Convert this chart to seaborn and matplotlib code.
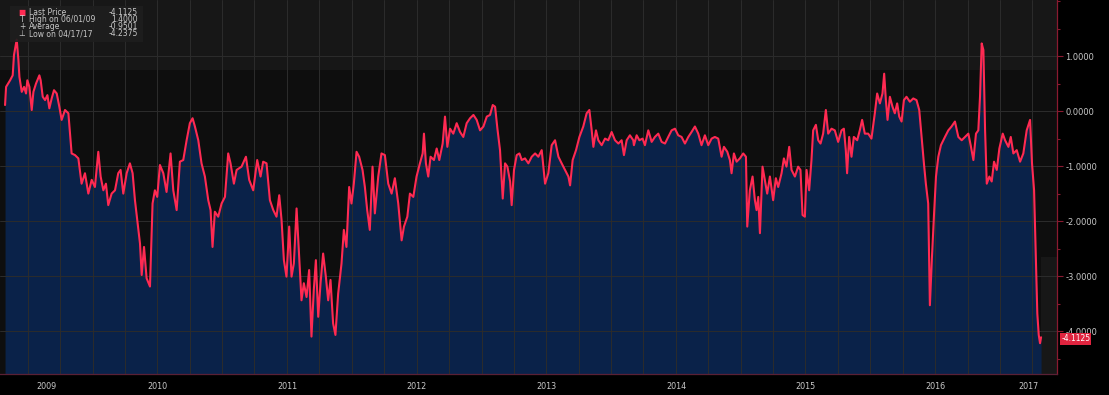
import numpy as np
import pandas as pd
import matplotlib
matplotlib.use("Agg")
import matplotlib.pyplot as plt
import matplotlib.dates as mdates
import matplotlib.ticker as mticker
from matplotlib.patches import Rectangle
import seaborn as sns

# ---------------- data ----------------
year_frac = [
    2009.321, 2009.329, 2009.360, 2009.380, 2009.390, 2009.411, 2009.424, 2009.432, 2009.450, 2009.468,
    2009.483, 2009.493, 2009.509, 2009.527, 2009.540, 2009.560, 2009.586, 2009.596, 2009.612, 2009.630,
    2009.648, 2009.663, 2009.681, 2009.699, 2009.720, 2009.740, 2009.758, 2009.784, 2009.810, 2009.835,
    2009.861, 2009.887, 2009.912, 2009.938, 2009.964, 2009.990, 2010.015, 2010.041, 2010.059, 2010.080,
    2010.100, 2010.118, 2010.144, 2010.170, 2010.195, 2010.213, 2010.234, 2010.260, 2010.285, 2010.306,
    2010.324, 2010.342, 2010.363, 2010.376, 2010.394, 2010.414, 2010.440, 2010.460, 2010.478, 2010.496,
    2010.517, 2010.543, 2010.568, 2010.599, 2010.620, 2010.646, 2010.671, 2010.697, 2010.723, 2010.748,
    2010.769, 2010.787, 2010.813, 2010.838, 2010.864, 2010.890, 2010.908, 2010.923, 2010.941,
    2010.967, 2010.993, 2011.019, 2011.044, 2011.062, 2011.088, 2011.109, 2011.147, 2011.181, 2011.206,
    2011.237, 2011.268, 2011.294, 2011.314, 2011.340, 2011.366, 2011.392, 2011.417, 2011.438, 2011.456,
    2011.474, 2011.494, 2011.515, 2011.533, 2011.551, 2011.572, 2011.592, 2011.610, 2011.628, 2011.649,
    2011.669, 2011.687, 2011.705, 2011.721, 2011.739, 2011.757, 2011.777, 2011.798, 2011.816, 2011.834,
    2011.854, 2011.872, 2011.893, 2011.919, 2011.937, 2011.957, 2011.978, 2011.996, 2012.014, 2012.035,
    2012.055, 2012.081, 2012.099, 2012.117, 2012.137, 2012.158, 2012.176, 2012.202, 2012.227, 2012.253,
    2012.279, 2012.305, 2012.330, 2012.356, 2012.382, 2012.400, 2012.426, 2012.446, 2012.472, 2012.497,
    2012.523, 2012.544, 2012.554,
    2012.569, 2012.587, 2012.605, 2012.631, 2012.652, 2012.672, 2012.698, 2012.716, 2012.734, 2012.755,
    2012.780, 2012.806, 2012.832, 2012.857, 2012.883, 2012.909, 2012.935, 2012.960, 2012.986, 2013.012,
    2013.038, 2013.063, 2013.084, 2013.102, 2013.120, 2013.140, 2013.161, 2013.179, 2013.197, 2013.218,
    2013.230, 2013.248, 2013.269, 2013.290, 2013.308, 2013.333, 2013.359, 2013.385, 2013.411, 2013.436,
    2013.462, 2013.488, 2013.513, 2013.539, 2013.565, 2013.591, 2013.616, 2013.642, 2013.668, 2013.681,
    2013.701, 2013.727, 2013.753, 2013.783, 2013.809, 2013.830, 2013.848, 2013.861, 2013.881, 2013.899,
    2013.925, 2013.951, 2013.976, 2014.002, 2014.028, 2014.054, 2014.079, 2014.097, 2014.118, 2014.143,
    2014.169,
    2014.174, 2014.195, 2014.216, 2014.241, 2014.259, 2014.285, 2014.311, 2014.336, 2014.362, 2014.388,
    2014.414, 2014.439, 2014.465, 2014.491, 2014.516, 2014.542, 2014.568, 2014.594, 2014.619, 2014.645,
    2014.671, 2014.696, 2014.722, 2014.748, 2014.774, 2014.799, 2014.825, 2014.851, 2014.869, 2014.895,
    2014.915, 2014.928, 2014.946, 2014.967, 2014.992, 2015.018, 2015.039, 2015.049, 2015.069, 2015.090,
    2015.108, 2015.121, 2015.134, 2015.147, 2015.167, 2015.185, 2015.203, 2015.224, 2015.249, 2015.270,
    2015.288, 2015.314, 2015.332, 2015.352, 2015.373, 2015.391, 2015.417, 2015.442, 2015.460, 2015.476,
    2015.494, 2015.507, 2015.527, 2015.545, 2015.558, 2015.579, 2015.597, 2015.615, 2015.635, 2015.656,
    2015.674, 2015.700, 2015.725, 2015.751, 2015.777, 2015.795,
    2015.810, 2015.820, 2015.836, 2015.854, 2015.872, 2015.898, 2015.918, 2015.936, 2015.957, 2015.983,
    2016.008, 2016.034, 2016.052, 2016.073, 2016.093, 2016.106, 2016.119, 2016.132, 2016.150, 2016.170,
    2016.188, 2016.206, 2016.222, 2016.240, 2016.258, 2016.278, 2016.304, 2016.330, 2016.355, 2016.376,
    2016.394, 2016.412, 2016.427, 2016.445, 2016.458, 2016.474, 2016.489, 2016.505, 2016.523, 2016.543,
    2016.574, 2016.600, 2016.625, 2016.651, 2016.677, 2016.703, 2016.728, 2016.754, 2016.772, 2016.793,
    2016.813, 2016.831, 2016.844, 2016.857, 2016.870, 2016.883, 2016.896, 2016.916, 2016.934, 2016.952,
    2016.973, 2016.993, 2017.019, 2017.037, 2017.063, 2017.081, 2017.101, 2017.127, 2017.153, 2017.178,
    2017.204, 2017.230, 2017.245, 2017.261, 2017.276, 2017.286, 2017.297, 2017.307, 2017.315,
]
values = [
    0.11, 0.44, 0.56, 0.65, 1.02, 1.30, 0.93, 0.62, 0.35, 0.44,
    0.32, 0.56, 0.44, 0.02, 0.35, 0.50, 0.65, 0.56, 0.26, 0.20,
    0.29, 0.05, 0.23, 0.38, 0.32, 0.08, -0.16, 0.02, -0.04, -0.77,
    -0.80, -0.86, -1.32, -1.13, -1.50, -1.25, -1.38, -0.74, -1.19, -1.44,
    -1.32, -1.71, -1.50, -1.44, -1.13, -1.07, -1.50, -1.13, -0.95, -1.13,
    -1.62, -1.98, -2.41, -2.98, -2.47, -3.04, -3.19, -1.68, -1.44, -1.56,
    -0.98, -1.13, -1.47, -0.77, -1.44, -1.80, -0.92, -0.89, -0.53, -0.22,
    -0.13, -0.28, -0.53, -0.95, -1.19, -1.62, -1.80, -2.47, -1.83,
    -1.92, -1.68, -1.56, -0.77, -0.95, -1.32, -1.07, -1.01, -0.83, -1.25,
    -1.44, -0.89, -1.19, -0.92, -0.95, -1.62, -1.80, -1.92, -1.53, -1.98,
    -2.71, -3.01, -2.10, -3.01, -2.77, -1.77, -2.65, -3.44, -3.13, -3.38,
    -2.89, -4.10, -3.25, -2.71, -3.74, -3.13, -2.59, -3.01, -3.44, -3.07,
    -3.86, -4.07, -3.32, -2.77, -2.16, -2.47, -1.38, -1.68, -1.32, -0.74,
    -0.83, -1.07, -1.38, -1.80, -2.16, -1.01, -1.86, -1.19, -0.77, -0.80,
    -1.32, -1.50, -1.22, -1.68, -2.35, -2.10, -1.92, -1.50, -1.56, -1.19,
    -0.95, -0.77, -0.41,
    -0.95, -1.19, -0.83, -0.89, -0.68, -0.89, -0.59, -0.10, -0.65, -0.32,
    -0.41, -0.22, -0.38, -0.47, -0.22, -0.13, -0.07, -0.16, -0.35, -0.28,
    -0.10, -0.07, 0.11, 0.08, -0.32, -0.71, -1.59, -0.95, -1.01, -1.28,
    -1.71, -1.07, -0.80, -0.77, -0.89, -0.86, -0.95, -0.83, -0.77, -0.83,
    -0.71, -1.32, -1.13, -0.62, -0.53, -0.83, -0.95, -1.07, -1.19, -1.35,
    -0.89, -0.71, -0.47, -0.28, -0.04, 0.02, -0.35, -0.65, -0.35, -0.53,
    -0.62, -0.50, -0.53, -0.38, -0.53, -0.59, -0.53, -0.80, -0.53, -0.44,
    -0.53,
    -0.62, -0.44, -0.53, -0.50, -0.62, -0.35, -0.56, -0.47, -0.41, -0.56,
    -0.59, -0.47, -0.35, -0.32, -0.44, -0.47, -0.59, -0.47, -0.38, -0.28,
    -0.41, -0.62, -0.44, -0.62, -0.50, -0.47, -0.50, -0.83, -0.65, -0.74,
    -0.89, -1.13, -0.77, -0.92, -0.86, -0.77, -0.83, -2.10, -1.44, -1.19,
    -1.62, -1.80, -1.56, -2.22, -1.01, -1.25, -1.50, -1.19, -1.62, -1.22,
    -1.38, -1.13, -0.86, -1.01, -0.65, -1.07, -1.19, -1.01, -1.07, -1.89,
    -1.92, -1.07, -1.44, -0.89, -0.35, -0.25, -0.53, -0.59, -0.41, 0.02,
    -0.41, -0.32, -0.35, -0.56, -0.35, -0.32,
    -0.71, -1.13, -0.47, -0.83, -0.47, -0.53, -0.35, -0.16, -0.41, -0.41,
    -0.50, -0.04, 0.32, 0.14, 0.32, 0.68, 0.20, -0.16, 0.26, 0.08,
    -0.04, 0.14, -0.10, -0.19, 0.20, 0.26, 0.17, 0.23, 0.20, 0.02,
    -0.47, -0.95, -1.32, -1.68, -3.53, -2.65, -1.92, -1.19, -0.83, -0.62,
    -0.47, -0.35, -0.28, -0.19, -0.47, -0.53, -0.47, -0.41, -0.62, -0.89,
    -0.41, -0.35, 0.26, 1.23, 1.11, -0.35, -1.32, -1.19, -1.28, -0.92,
    -1.07, -0.68, -0.41, -0.53, -0.65, -0.47, -0.77, -0.71, -0.92, -0.77,
    -0.35, -0.16, -0.95, -1.44, -2.77, -3.68, -4.07, -4.22, -4.1125,
]

year_labels = ["2009", "2010", "2011", "2012", "2013", "2014", "2015", "2016", "2017"]
y_tick_values = [1.0, 0.0, -1.0, -2.0, -3.0, -4.0]

legend_names = ["Last Price", "High on 06/01/09", "Average", "Low on 04/17/17"]
legend_values = [-4.1125, 1.4000, -0.9501, -4.2375]
last_price = -4.1125


def frac_to_dt(f):
    y = int(np.floor(f))
    start = pd.Timestamp(year=y, month=1, day=1)
    end = pd.Timestamp(year=y + 1, month=1, day=1)
    return start + (end - start) * (f - y)


df = pd.DataFrame({"date": [frac_to_dt(f) for f in year_frac], "value": values})

# ---------------- style ----------------
BG = "#0e0e0e"
BAND = "#171717"
FILL = "#0a2249"
LINE = "#ff2a52"
GRID = "#2c2c2c"
TXT = "#c8c8c8"
AXRED = "#8a1a30"

sns.set_style("dark", {"axes.facecolor": BG, "figure.facecolor": "#000000"})
plt.rcParams["font.family"] = ["DejaVu Sans"]

fig = plt.figure(figsize=(11.09, 3.95), dpi=100)
ax = fig.add_axes([0.0, 0.0532, 1057 / 1109, 1 - 0.0532])
ax.set_facecolor(BG)

xmin = frac_to_dt(2009.282)
xmax = frac_to_dt(2017.438)
ymin, ymax = -4.78, 2.02
ax.set_xlim(xmin, xmax)
ax.set_ylim(ymin, ymax)

# background bands
ax.axhspan(0.745, ymax, color=BAND, zorder=0, lw=0)
ax.fill_between([frac_to_dt(2017.315), xmax], ymin, -2.65, color=BAND, zorder=0, lw=0)

# grid
for q in pd.date_range("2009-07-01", "2017-04-01", freq="QS"):
    ax.axvline(q, color=GRID, lw=0.7, zorder=2.5)
for v in y_tick_values:
    ax.axhline(v, color=GRID, lw=0.7, zorder=2.5)

# area + line
ax.fill_between(df["date"], df["value"], ymin, color=FILL, zorder=2, lw=0)
sns.lineplot(data=df, x="date", y="value", ax=ax, color=LINE, lw=1.5, zorder=3)
ax.set_xlabel("")
ax.set_ylabel("")

# right y axis
ax.yaxis.tick_right()
ax.set_yticks(y_tick_values)
ax.yaxis.set_major_formatter(mticker.FormatStrFormatter("%.4f"))
ax.yaxis.set_minor_locator(mticker.MultipleLocator(0.5))
ax.tick_params(axis="y", which="major", colors=AXRED, labelcolor=TXT, labelsize=6,
               length=4, width=0.8, direction="out", pad=2)
ax.tick_params(axis="y", which="minor", colors=AXRED, length=2.5, width=0.8)
for s in ["top", "left"]:
    ax.spines[s].set_visible(False)
ax.spines["right"].set_color(AXRED)
ax.spines["right"].set_linewidth(0.9)
ax.spines["bottom"].set_color("#5a2035")
ax.spines["bottom"].set_linewidth(0.9)

# x axis: red separators at year boundaries, labels centred in each visible year span
ax.xaxis.set_major_locator(mdates.YearLocator())
ax.xaxis.set_major_formatter(mticker.NullFormatter())
ax.tick_params(axis="x", which="major", colors="#4a0f1c", length=19, width=1.2, direction="out")
for lab in year_labels:
    y = int(lab)
    s = max(pd.Timestamp(year=y, month=1, day=1), xmin)
    e = min(pd.Timestamp(year=y + 1, month=1, day=1), xmax)
    mid = s + (e - s) / 2
    ax.text(mid, -0.033, lab, transform=ax.get_xaxis_transform(), ha="center", va="center",
            color=TXT, fontsize=5.8, clip_on=False)

# last price tag (drawn over the -4.0000 label as in the reference)
ax.annotate(f"{last_price:.4f}", xy=(1.0, last_price - 0.03), xycoords=ax.get_yaxis_transform(),
            xytext=(3, 0), textcoords="offset points", ha="left", va="center",
            color="white", fontsize=5.5, zorder=10,
            bbox=dict(boxstyle="square,pad=0.15", fc="#e0243f", ec="none"), annotation_clip=False)

# legend box
ax.add_patch(Rectangle((10 / 1057, 1 - 42 / 374), 133 / 1057, 36 / 374, transform=ax.transAxes,
                       facecolor="#1e1e1e", edgecolor="none", alpha=0.9, zorder=5))
icons = ["■", "T", "+", "⊥"]
icon_colors = [LINE, TXT, TXT, TXT]
for i, (nm, val) in enumerate(zip(legend_names, legend_values)):
    yy = 1 - (13 + i * 7) / 374
    ax.text(22 / 1057, yy, icons[i], transform=ax.transAxes, color=icon_colors[i], fontsize=5.5,
            ha="center", va="center", zorder=6)
    ax.text(29 / 1057, yy, nm, transform=ax.transAxes, color=TXT, fontsize=5.5,
            ha="left", va="center", zorder=6)
    ax.text(138 / 1057, yy, f"{val:.4f}", transform=ax.transAxes, color=TXT, fontsize=5.5,
            ha="right", va="center", zorder=6)

fig.savefig("out.png", dpi=100, facecolor="#000000")
